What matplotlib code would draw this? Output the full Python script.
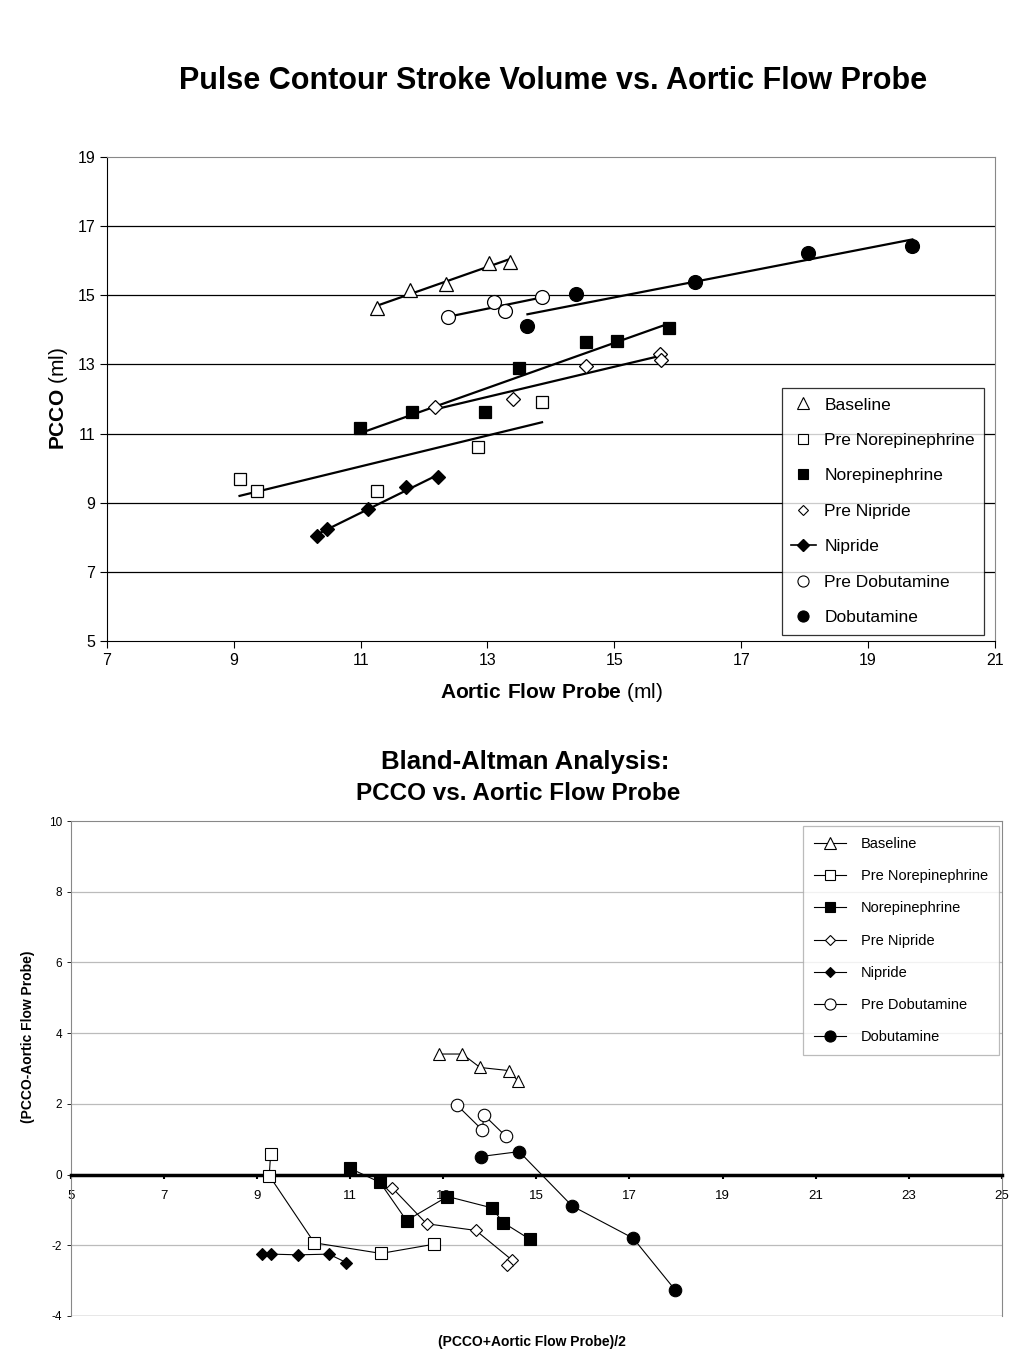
import numpy as np
import matplotlib
matplotlib.use("Agg")
import matplotlib.pyplot as plt

plt.rcParams['font.family'] = ['Liberation Sans', 'DejaVu Sans']
plt.rcParams['axes.unicode_minus'] = False
plt.rcParams['mathtext.fontset'] = 'custom'
plt.rcParams['mathtext.rm'] = 'Liberation Sans'
plt.rcParams['mathtext.bf'] = 'Liberation Sans:bold'

series = ["Baseline", "Pre Norepinephrine", "Norepinephrine", "Pre Nipride",
          "Nipride", "Pre Dobutamine", "Dobutamine"]

# top chart: aortic flow probe (x) vs PCCO (y)
base_x = [11.26, 11.78, 12.34, 13.02, 13.35]
base_y = [14.63, 15.15, 15.33, 15.93, 15.97]
prenor_x = [9.09, 9.36, 11.25, 12.85, 13.86]
prenor_y = [9.68, 9.34, 9.34, 10.62, 11.90]
nor_x = [10.99, 11.81, 12.96, 13.50, 14.56, 15.04, 15.86]
nor_y = [11.15, 11.61, 11.61, 12.89, 13.66, 13.69, 14.05]
prenip_x = [12.17, 13.40, 14.56, 15.72, 15.73]
prenip_y = [11.78, 12.00, 12.96, 13.30, 13.13]
nip_x = [10.31, 10.47, 11.11, 11.72, 12.22]
nip_y = [8.05, 8.23, 8.81, 9.46, 9.73]
predob_x = [12.37, 13.10, 13.27, 13.86]
predob_y = [14.36, 14.81, 14.55, 14.96]
dob_x = [13.63, 14.39, 16.28, 18.05, 19.70]
dob_y = [14.12, 15.04, 15.39, 16.23, 16.43]

# bottom chart: Bland-Altman mean vs difference
ba_base_m = [12.91, 13.41, 13.79, 14.42, 14.60]
ba_base_d = [3.41, 3.41, 3.03, 2.94, 2.65]
ba_prenor_m = [9.29, 9.26, 10.23, 11.66, 12.80]
ba_prenor_d = [0.58, -0.03, -1.93, -2.23, -1.97]
ba_nor_m = [10.99, 11.64, 12.21, 13.09, 14.04, 14.29, 14.86]
ba_nor_d = [0.18, -0.22, -1.30, -0.62, -0.94, -1.36, -1.83]
ba_prenip_m = [11.90, 12.64, 13.70, 14.47, 14.37]
ba_prenip_d = [-0.37, -1.39, -1.58, -2.41, -2.57]
ba_nip_m = [9.11, 9.30, 9.88, 10.54, 10.92]
ba_nip_d = [-2.25, -2.25, -2.27, -2.25, -2.49]
ba_predob_m = [13.29, 13.84, 13.87, 14.34]
ba_predob_d = [1.97, 1.26, 1.69, 1.09]
ba_dob_m = [13.80, 14.63, 15.77, 17.08, 17.98]
ba_dob_d = [0.51, 0.65, -0.89, -1.80, -3.26]

styles = [('^', 'white'), ('s', 'white'), ('s', 'black'), ('D', 'white'),
          ('D', 'black'), ('o', 'white'), ('o', 'black')]
msizes = [9, 8, 8, 6, 6, 9, 9]

fig = plt.figure(figsize=(10.24, 13.65), dpi=100)

# ---------------- top chart ----------------
ax = fig.add_axes([0.1045, 0.5304, 0.867, 0.3546])
top_data = [(base_x, base_y), (prenor_x, prenor_y), (nor_x, nor_y),
            (prenip_x, prenip_y), (nip_x, nip_y), (predob_x, predob_y),
            (dob_x, dob_y)]
handles = []
for i, (xs, ys) in enumerate(top_data):
    m, fc = styles[i]
    xs = np.array(xs)
    ys = np.array(ys)
    k, b = np.polyfit(xs, ys, 1)
    xl = np.array([xs.min(), xs.max()])
    ax.plot(xl, k * xl + b, color='black', lw=1.6, zorder=2)
    ax.plot(xs, ys, ls='none', marker=m, ms=msizes[i] + 1, mfc=fc,
            mec='black', mew=0.9, zorder=3)
    # legend handles use smaller markers
    h, = ax.plot([], [], ls='none', marker=m, ms=msizes[i] - 1, mfc=fc,
                 mec='black', mew=0.8)
    handles.append(h)
# Nipride legend entry shows a line through the marker
nip_handle, = ax.plot([], [], color='black', lw=1.2, marker='D', ms=6,
                      mfc='black', mec='black')
handles[4] = nip_handle

ax.set_xlim(7, 21)
ax.set_ylim(5, 19)
ax.set_xticks(range(7, 22, 2))
ax.set_yticks(range(5, 20, 2))
for yv in range(7, 19, 2):
    ax.axhline(yv, color='black', lw=0.9, zorder=1)
for s in ['top', 'right']:
    ax.spines[s].set_color('#888888')
for s in ['left', 'bottom']:
    ax.spines[s].set_color('black')
ax.tick_params(direction='out', length=5, labelsize=11.5, width=0.8)

fig.text(0.5383, 0.4928, r'$\mathbf{Aortic\ Flow\ Probe}$ (ml)', ha='center',
         va='center', fontsize=15)
fig.text(0.057, 0.7077, r'$\mathbf{PCCO}$ (ml)', ha='center', va='center',
         fontsize=15, rotation=90)
fig.text(0.5405, 0.941, 'Pulse Contour Stroke Volume vs. Aortic Flow Probe',
         ha='center', va='center', fontsize=22, fontweight='bold')

leg = ax.legend(handles=handles, labels=series, loc='upper left',
                bbox_to_anchor=(0.760, 0.523), borderaxespad=0, frameon=True,
                fancybox=False, edgecolor='black', fontsize=12.5,
                handlelength=1.4, labelspacing=1.17, borderpad=0.55,
                handletextpad=0.5)
leg.get_frame().set_linewidth(0.9)

# ---------------- bottom chart ----------------
bx = fig.add_axes([0.0693, 0.0359, 0.909, 0.3626])
ba_data = [(ba_base_m, ba_base_d), (ba_prenor_m, ba_prenor_d),
           (ba_nor_m, ba_nor_d), (ba_prenip_m, ba_prenip_d),
           (ba_nip_m, ba_nip_d), (ba_predob_m, ba_predob_d),
           (ba_dob_m, ba_dob_d)]
bh = []
for i, (xs, ys) in enumerate(ba_data):
    m, fc = styles[i]
    bx.plot(xs, ys, color='black', lw=0.8, marker=m, ms=msizes[i],
            mfc=fc, mec='black', mew=0.8, zorder=3)
    h, = bx.plot([], [], color='black', lw=0.8, marker=m, ms=msizes[i] - 1,
                 mfc=fc, mec='black', mew=0.8)
    bh.append(h)

bx.set_xlim(5, 25)
bx.set_ylim(-4, 10)
bx.set_xticks(range(5, 26, 2))
bx.set_yticks(range(-4, 11, 2))
for yv in range(-2, 10, 2):
    if yv != 0:
        bx.axhline(yv, color='#bbbbbb', lw=0.9, zorder=1)
bx.spines['bottom'].set_position(('data', 0))
bx.spines['bottom'].set_linewidth(2.5)
bx.spines['bottom'].set_color('black')
bx.axhline(-4, color='#888888', lw=1.0, zorder=1)
for s in ['top', 'right', 'left']:
    bx.spines[s].set_color('#888888')
bx.tick_params(axis='x', direction='out', length=3, width=1.5, labelsize=9.5,
               pad=8)
bx.tick_params(axis='y', direction='out', length=3, width=0.6, labelsize=8.5,
               colors='black')

fig.text(0.5125, 0.4417, 'Bland-Altman Analysis:', ha='center', va='center',
         fontsize=18.5, fontweight='bold')
fig.text(0.506, 0.4190, 'PCCO vs. Aortic Flow Probe', ha='center', va='center',
         fontsize=17.5, fontweight='bold')
fig.text(0.519, 0.0168, '(PCCO+Aortic Flow Probe)/2', ha='center', va='center',
         fontsize=10, fontweight='bold')
fig.text(0.027, 0.2403, '(PCCO-Aortic Flow Probe)', ha='center', va='center',
         fontsize=10, fontweight='bold', rotation=90)

leg2 = bx.legend(handles=bh, labels=series, loc='upper right',
                 bbox_to_anchor=(0.997, 0.990), borderaxespad=0, frameon=True,
                 fancybox=False, edgecolor='#aaaaaa', fontsize=10.5,
                 handlelength=2.2, labelspacing=1.25, borderpad=0.75,
                 handletextpad=1.0)
leg2.get_frame().set_linewidth(0.9)

fig.savefig('out.png', dpi=100)
